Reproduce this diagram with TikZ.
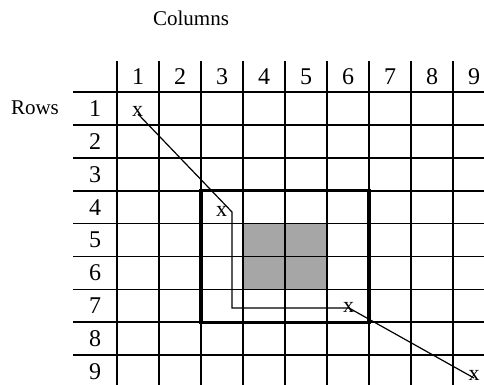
\documentclass[tikz,border=0pt]{standalone}
\usepackage{fontspec}
\setmainfont{Liberation Serif}
\usetikzlibrary{positioning}
\definecolor{cshade}{HTML}{A6A6A6}

\begin{document}
\begin{tikzpicture}[x=1pt, y=-1pt,
  numlbl/.style={font=\fontsize{24}{28}\selectfont, inner sep=0pt},
  axislbl/.style={font=\fontsize{21}{25}\selectfont, inner sep=0pt},
  xmark/.style={font=\fontsize{22}{26}\selectfont, inner sep=0pt},
  gridline/.style={line width=1.7pt},
  boxline/.style={line width=3.3pt},
  walkline/.style={line width=1.2pt}]
  \useasboundingbox (0,0) rectangle (484,385);
  % shaded centre cells
  \fill[cshade] (243,223.6) rectangle (327,289.4);
  % grid
  \foreach \c in {0,...,8}
    \draw[gridline] (117+42*\c,61) -- (117+42*\c,385);
  \foreach \r in {0,...,8}
    \draw[gridline] (73,92+32.9*\r) -- (484,92+32.9*\r);
  % headers
  \foreach \c in {1,...,9}
    \node[numlbl] (col\c) at (96+42*\c,77) {\c};
  \foreach \r in {1,...,9}
    \node[numlbl] (row\r) at (95,75.55+32.9*\r) {\r};
  \node[axislbl] (columns) at (191,18) {Columns};
  \node[axislbl] (rows) at (35,108) {Rows};
  % window
  \draw[boxline] (201,190.7) rectangle (369,322.3);
  % walk
  \node[xmark] (xa) at (137.5,111) {x};
  \node[xmark] (xb) at (221.5,211) {x};
  \node[xmark] (xc) at (348.5,307) {x};
  \node[xmark] (xd) at (474,375) {x};
  \coordinate (pa) at (138,114);
  \coordinate (pb) at (232,212);
  \coordinate (pc) at (232,308);
  \coordinate (pd) at (349,308);
  \coordinate (pe) at (474,378);
  \draw[walkline] (pa) -- (pb) -- (pc) -- (pd) -- (pe);
\end{tikzpicture}
\end{document}
